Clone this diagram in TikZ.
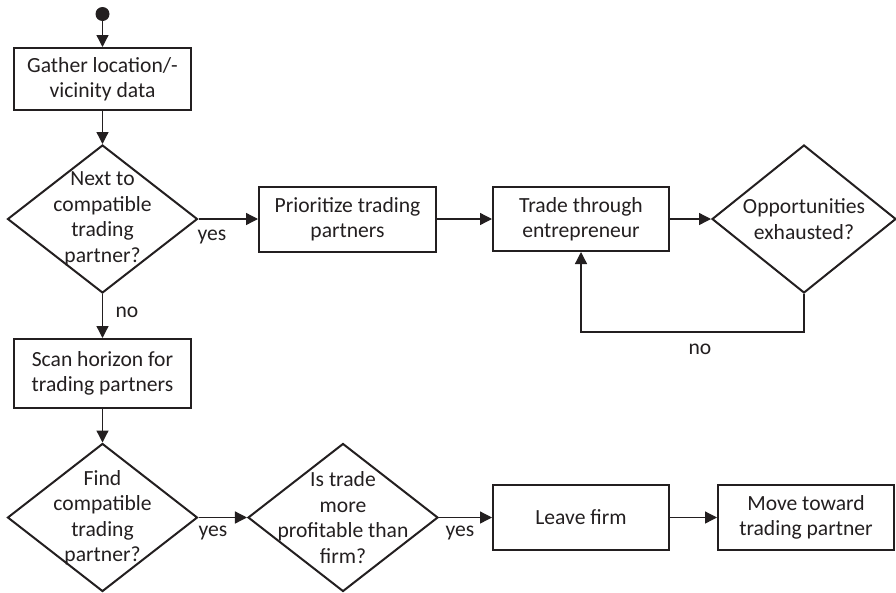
\documentclass[tikz,border=0pt]{standalone}
\usepackage{fontspec}
\setmainfont{Carlito}
\usetikzlibrary{shapes.geometric,arrows.meta}
\definecolor{ink}{RGB}{35,31,32}
\begin{document}
\begin{tikzpicture}[x=1pt,y=-1pt,
  every node/.style={font=\fontsize{21.6}{25.5}\selectfont, text=ink},
  stepbox/.style={draw=ink, line width=2pt, minimum width=177pt, inner sep=0pt, align=center},
  dia/.style={diamond, draw=ink, line width=2pt, minimum width=190pt, minimum height=148pt, inner sep=0pt},
  dlab/.style={align=center, inner sep=0pt},
  conn/.style={draw=ink, line width=1.3pt, -{Triangle[length=12pt,width=12pt]}},
  lab/.style={inner sep=0pt}]
\useasboundingbox (0,0) rectangle (896,592);

\node[circle, fill=ink, minimum size=14pt, inner sep=0pt] (start) at (102.5,14) {};
\node[stepbox, minimum height=62pt] (gather) at (102.5,79) {Gather location/-\\vicinity data};
\node[dia, label={[dlab]center:{Next to\\compatible\\trading\\partner?}}] (next) at (102.5,219) {};
\node[stepbox, minimum height=65pt] (prio) at (347.5,219) {Prioritize trading\\partners};
\node[stepbox, minimum width=176pt, minimum height=64pt] (trade) at (581,219) {Trade through\\entrepreneur};
\node[dia, minimum width=184pt, label={[dlab]center:{Opportunities\\exhausted?}}] (opp) at (804,219) {};
\coordinate (loop) at (804,332);
\node[stepbox, minimum height=69pt] (scan) at (102.5,373.5) {Scan horizon for\\trading partners};
\node[dia, label={[dlab]center:{Find\\compatible\\trading\\partner?}}] (find) at (102.5,517.5) {};
\node[dia, label={[dlab]center:{Is trade\\more\\profitable than\\firm?}}] (profit) at (343,517.5) {};
\node[stepbox, minimum width=176pt, minimum height=65pt] (leave) at (581,517.5) {Leave firm};
\node[stepbox, minimum width=176pt, minimum height=65pt] (move) at (806,517.5) {Move toward\\trading partner};

\draw[conn] (start) -- (gather);
\draw[conn] (gather) -- (next);
\draw[conn] (next) -- (prio);
\draw[conn] (prio) -- (trade);
\draw[conn] (trade) -- (opp);
\draw[conn] (opp.south) -- (loop) -| (trade.south);
\draw[conn] (next) -- (scan);
\draw[conn] (scan) -- (find);
\draw[conn] (find) -- (profit);
\draw[conn] (profit) -- (leave);
\draw[conn] (leave) -- (move);

\node[lab] (yes1) at (212,237) {yes};
\node[lab] (no1) at (127,312) {no};
\node[lab] (no2) at (700,349) {no};
\node[lab] (yes2) at (213,533) {yes};
\node[lab] (yes3) at (460,533) {yes};
\end{tikzpicture}
\end{document}
